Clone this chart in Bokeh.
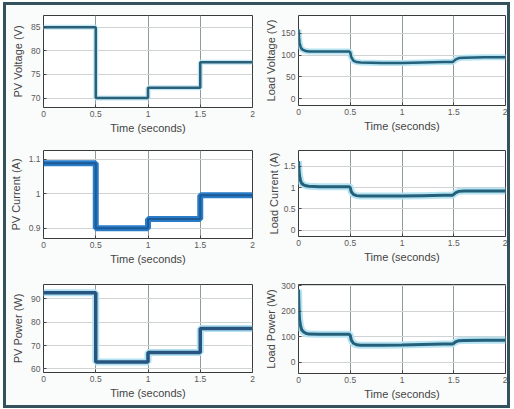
from bokeh.plotting import figure
from bokeh.layouts import gridplot, column
from bokeh.models import Range1d, FixedTicker
from bokeh.embed import file_html
from bokeh.resources import INLINE

# ---- data ----
time_ticks = [0, 0.5, 1, 1.5, 2]
time_tick_labels = {0: "0", 0.5: "0.5", 1: "1", 1.5: "1.5", 2: "2"}

# PV side: step changes every 0.5 s
pv_t = [0, 0.5, 1.0, 1.5, 2.0]
pv_voltage = [85.0, 70.0, 72.2, 77.6, 77.6]
pv_current = [1.089, 0.900, 0.927, 0.996, 0.996]
pv_power = [92.5, 63.0, 67.0, 77.2, 77.2]

# Load side: transient at start, then steps
load_t = [0, 0.005, 0.01, 0.02, 0.03, 0.05, 0.07, 0.1, 0.2, 0.3, 0.4, 0.49, 0.5, 0.51,
          0.53, 0.56, 0.6, 0.8, 1.0, 1.2, 1.4, 1.49, 1.5, 1.52, 1.55, 1.6, 1.8, 2.0]
load_voltage = [158, 140, 128, 119, 114, 111, 109, 108, 108, 108, 108, 108, 106, 95,
                87, 84, 83, 82, 82, 83, 84, 84, 86, 90, 93, 94, 95, 95]
load_current = [1.62, 1.40, 1.28, 1.16, 1.10, 1.06, 1.04, 1.03, 1.02, 1.02, 1.02, 1.02, 1.00, 0.90,
                0.84, 0.81, 0.80, 0.80, 0.80, 0.81, 0.82, 0.82, 0.84, 0.88, 0.91, 0.92, 0.92, 0.92]
load_power = [285, 205, 168, 142, 127, 118, 113, 110, 109, 109, 109, 109, 105, 86,
              74, 68, 66, 66, 67, 69, 71, 71, 74, 80, 84, 85, 86, 86]

FONT = "Liberation Sans"


def make_fig(ylabel, yrange, yticks, ytick_labels, borders, frame, ystandoff=4):
    left, right, top, bottom = borders
    fw, fh = frame
    p = figure(frame_width=fw, frame_height=fh, output_backend="svg", toolbar_location=None,
               x_range=Range1d(0, 2), y_range=Range1d(*yrange),
               min_border_left=left, min_border_right=right,
               min_border_top=top, min_border_bottom=bottom,
               background_fill_color="white", border_fill_color="#fafbfb",
               outline_line_color="#3a3a3a", outline_line_width=1)
    p.xaxis.ticker = FixedTicker(ticks=time_ticks)
    p.xaxis.major_label_overrides = time_tick_labels
    p.yaxis.ticker = FixedTicker(ticks=yticks)
    p.yaxis.major_label_overrides = ytick_labels
    p.xaxis.axis_label = "Time (seconds)"
    p.yaxis.axis_label = ylabel
    for ax in (p.xaxis[0], p.yaxis[0]):
        ax.axis_line_color = None
        ax.major_tick_in = 3
        ax.major_tick_out = 0
        ax.major_tick_line_color = "#444444"
        ax.minor_tick_line_color = None
        ax.major_label_text_font = FONT
        ax.major_label_text_font_size = "8.5px"
        ax.major_label_text_color = "#5a5a5a"
        ax.axis_label_text_font = FONT
        ax.axis_label_text_font_style = "normal"
        ax.axis_label_text_color = "#444444"
    p.xaxis.axis_label_text_font_size = "11px"
    p.yaxis.axis_label_text_font_size = "11px"
    p.xaxis.major_label_standoff = 3
    p.yaxis.major_label_standoff = 3
    p.xaxis.axis_label_standoff = 2
    p.yaxis.axis_label_standoff = ystandoff
    p.xgrid.grid_line_color = "#8f9a9c"
    p.xgrid.grid_line_width = 1
    p.ygrid.grid_line_color = "#cfd3d3"
    p.ygrid.grid_line_width = 1
    return p


# Top-left: PV Voltage   (figure 250 x 133)
f1 = make_fig("PV Voltage (V)", (68, 87.5), [70, 75, 80, 85],
              {70: "70", 75: "75", 80: "80", 85: "85"}, (36, 5, 10, 31), (209, 92))
f1.step(pv_t, pv_voltage, mode="after", line_color="#bfe7f3", line_width=5)
f1.step(pv_t, pv_voltage, mode="after", line_color="#2c5f78", line_width=2.5)

# Top-right: Load Voltage
f2 = make_fig("Load Voltage (V)", (-15, 190), [0, 50, 100, 150],
              {0: "0", 50: "50", 100: "100", 150: "150"}, (40, 3, 10, 33), (207, 90), ystandoff=1)
f2.line(load_t, load_voltage, line_color="#b5e3f2", line_width=6)
f2.line(load_t, load_voltage, line_color="#24607a", line_width=2.5)

# Middle-left: PV Current   (figure 250 x 134)
f3 = make_fig("PV Current (A)", (0.87, 1.126), [0.9, 1.0, 1.1],
              {0.9: "0.9", 1.0: "1", 1.1: "1.1"}, (36, 5, 12, 34), (209, 88))
f3.step(pv_t, pv_current, mode="after", line_color="#2a7cc8", line_width=6)
f3.step(pv_t, pv_current, mode="after", line_color="#1c5a96", line_width=2)

# Middle-right: Load Current
f4 = make_fig("Load Current (A)", (-0.15, 1.87), [0, 0.5, 1, 1.5],
              {0: "0", 0.5: "0.5", 1: "1", 1.5: "1.5"}, (41, 2, 12, 36), (207, 86), ystandoff=1)
f4.line(load_t, load_current, line_color="#b5e3f2", line_width=7)
f4.line(load_t, load_current, line_color="#24607a", line_width=3)

# Bottom-left: PV Power   (figure 250 x 133)
f5 = make_fig("PV Power (W)", (58.5, 96), [60, 70, 80, 90],
              {60: "60", 70: "70", 80: "80", 90: "90"}, (36, 5, 12, 33), (209, 88))
f5.step(pv_t, pv_power, mode="after", line_color="#b1e1f2", line_width=7)
f5.step(pv_t, pv_power, mode="after", line_color="#28557f", line_width=3.5)

# Bottom-right: Load Power
f6 = make_fig("Load Power (W)", (-45, 305), [0, 100, 200, 300],
              {0: "0", 100: "100", 200: "200", 300: "300"}, (40, 3, 12, 32), (207, 89), ystandoff=1)
f6.line(load_t, load_power, line_color="#b5e3f2", line_width=7)
f6.line(load_t, load_power, line_color="#24607a", line_width=3)

grid = gridplot([[f1, f2], [f3, f4], [f5, f6]], toolbar_location=None)
layout = column(grid,
                styles={"border": "3px solid #34525c", "margin-left": "3px",
                        "margin-top": "2px", "background-color": "#fafbfb"})

open("out.html", "w").write(file_html(layout, INLINE))
